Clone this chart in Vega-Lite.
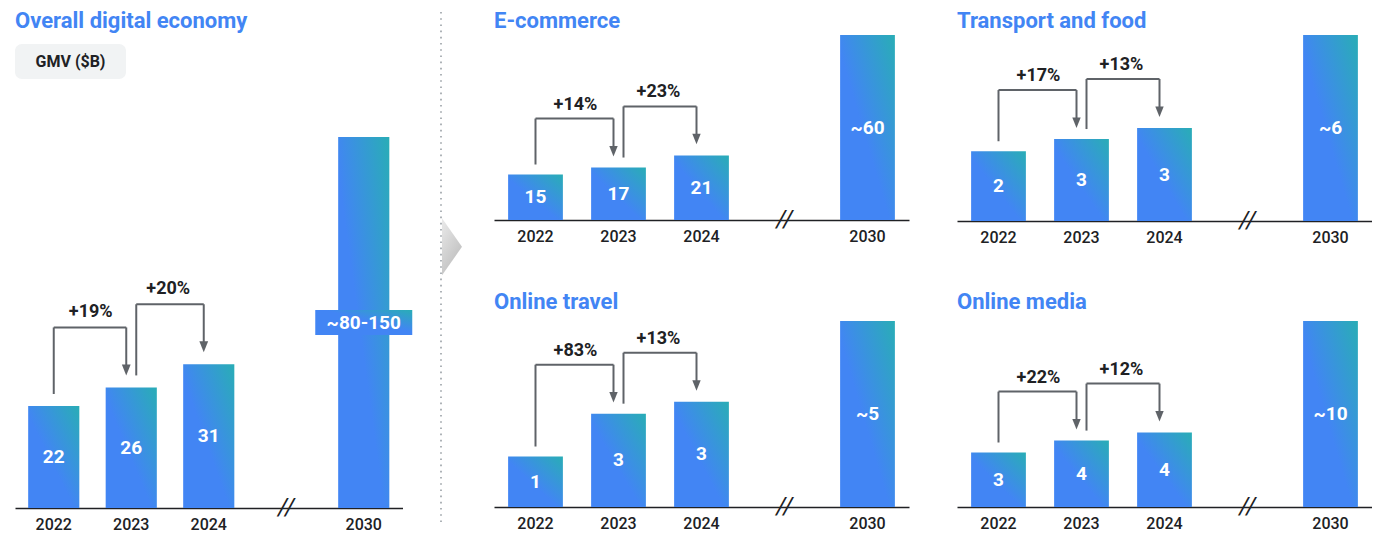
{
  "$schema": "https://vega.github.io/schema/vega-lite/v6.json",
  "background": "white",
  "padding": {"left": 15, "top": 10, "right": 0, "bottom": 0},
  "config": {
    "view": {"stroke": null},
    "font": "Roboto",
    "title": {"anchor": "start", "fontSize": 22, "fontWeight": "bold", "color": "#4285F4", "font": "Roboto"},
    "axis": {"labelFont": "Roboto", "labelFontWeight": 500}
  },
  "datasets": {
    "overall": [
      {"year": "2022", "value": 22, "label": "22"},
      {"year": "2023", "value": 26, "label": "26"},
      {"year": "2024", "value": 31, "label": "31"},
      {"year": "2030", "value": 80, "label": "~80-150"}
    ],
    "overall_growth": [
      {"from": "2022", "to": "2023", "fromValue": 22, "toValue": 26, "pct": "+19%", "step": 1},
      {"from": "2023", "to": "2024", "fromValue": 26, "toValue": 31, "pct": "+20%", "step": 2}
    ],
    "ecommerce": [
      {"year": "2022", "value": 15, "label": "15"},
      {"year": "2023", "value": 17.3, "label": "17"},
      {"year": "2024", "value": 21.3, "label": "21"},
      {"year": "2030", "value": 61, "label": "~60"}
    ],
    "ecommerce_growth": [
      {"from": "2022", "to": "2023", "fromValue": 15, "toValue": 17.3, "pct": "+14%", "step": 1},
      {"from": "2023", "to": "2024", "fromValue": 17.3, "toValue": 21.3, "pct": "+23%", "step": 2}
    ],
    "transport": [
      {"year": "2022", "value": 2.4, "label": "2"},
      {"year": "2023", "value": 2.82, "label": "3"},
      {"year": "2024", "value": 3.2, "label": "3"},
      {"year": "2030", "value": 6.4, "label": "~6"}
    ],
    "transport_growth": [
      {"from": "2022", "to": "2023", "fromValue": 2.4, "toValue": 2.82, "pct": "+17%", "step": 1},
      {"from": "2023", "to": "2024", "fromValue": 2.82, "toValue": 3.2, "pct": "+13%", "step": 2}
    ],
    "travel": [
      {"year": "2022", "value": 1.52, "label": "1"},
      {"year": "2023", "value": 2.81, "label": "3"},
      {"year": "2024", "value": 3.17, "label": "3"},
      {"year": "2030", "value": 5.6, "label": "~5"}
    ],
    "travel_growth": [
      {"from": "2022", "to": "2023", "fromValue": 1.52, "toValue": 2.81, "pct": "+83%", "step": 1},
      {"from": "2023", "to": "2024", "fromValue": 2.81, "toValue": 3.17, "pct": "+13%", "step": 2}
    ],
    "media": [
      {"year": "2022", "value": 2.93, "label": "3"},
      {"year": "2023", "value": 3.57, "label": "4"},
      {"year": "2024", "value": 4.0, "label": "4"},
      {"year": "2030", "value": 10, "label": "~10"}
    ],
    "media_growth": [
      {"from": "2022", "to": "2023", "fromValue": 2.93, "toValue": 3.57, "pct": "+22%", "step": 1},
      {"from": "2023", "to": "2024", "fromValue": 3.57, "toValue": 4.0, "pct": "+12%", "step": 2}
    ]
  },
  "spacing": 27,
  "hconcat": [
    {
      "spacing": 8,
      "vconcat": [
        {
          "title": {"text": "Overall digital economy", "offset": 2},
          "width": 111,
          "height": 1,
          "data": {"values": [{}]},
          "mark": {"type": "point", "size": 0, "opacity": 0, "filled": true},
          "encoding": {}
        },
        {
          "spacing": 58,
          "vconcat": [
            {
              "width": 111,
              "height": 35,
              "view": {"fill": "#f1f3f4", "stroke": null, "cornerRadius": 7},
              "data": {"values": [{}]},
              "mark": {"type": "text", "text": "GMV ($B)", "fontSize": 16, "fontWeight": "bold", "color": "#202124", "baseline": "middle"},
              "encoding": {}
            },
            {
              "width": 387.5,
              "height": 371,
              "data": {"name": "overall"},
              "resolve": {"scale": {"y": "independent"}},
              "layer": [
                {
                  "mark": {"type": "bar", "color": {"gradient": "linear", "x1": 0, "y1": 1, "x2": 1, "y2": 0, "stops": [{"offset": 0, "color": "#4285F4"}, {"offset": 0.45, "color": "#4285F4"}, {"offset": 1, "color": "#29ADB6"}]}},
                  "encoding": {
                    "x": {"field": "year", "type": "ordinal", "scale": {"domain": ["2022", "2023", "2024", "gap", "2030"], "paddingInner": 0.34, "paddingOuter": 0.17}, "axis": {"title": null, "labelExpr": "datum.value == 'gap' ? '' : datum.value", "ticks": false, "domainColor": "#202124", "domainWidth": 1.5, "labelFontSize": 16, "labelColor": "#202124", "labelPadding": 8, "labelAngle": 0}},
                    "y": {"field": "value", "type": "quantitative", "scale": {"domain": [0, 80], "nice": false}, "axis": null}
                  }
                },
                {
                  "transform": [{"filter": "datum.year == '2030'"}],
                  "mark": {"type": "bar", "width": 97, "yOffset": -12.5, "y2Offset": 12.5, "color": {"gradient": "linear", "x1": 0, "y1": 1, "x2": 1, "y2": 0, "stops": [{"offset": 0, "color": "#4285F4"}, {"offset": 0.55, "color": "#4285F4"}, {"offset": 1, "color": "#29ADB6"}]}},
                  "encoding": {
                    "x": {"field": "year", "type": "ordinal", "scale": {"domain": ["2022", "2023", "2024", "gap", "2030"], "paddingInner": 0.34, "paddingOuter": 0.17}},
                    "y": {"field": "value", "type": "quantitative", "scale": {"domain": [0, 160], "nice": false}, "axis": null},
                    "y2": {"field": "value"}
                  }
                },
                {
                  "mark": {"type": "text", "color": "white", "fontSize": 19, "fontWeight": "bold", "baseline": "middle"},
                  "encoding": {
                    "x": {"field": "year", "type": "ordinal", "scale": {"domain": ["2022", "2023", "2024", "gap", "2030"], "paddingInner": 0.34, "paddingOuter": 0.17}},
                    "y": {"field": "value", "type": "quantitative", "scale": {"domain": [0, 160], "nice": false}, "axis": null},
                    "text": {"field": "label"}
                  }
                },
                {
                  "data": {"values": [{}]},
                  "mark": {"type": "text", "text": "//", "fontSize": 24, "fontStyle": "italic", "color": "#202124", "baseline": "middle"},
                  "encoding": {
                    "x": {"datum": "gap", "type": "ordinal", "scale": {"domain": ["2022", "2023", "2024", "gap", "2030"], "paddingInner": 0.34, "paddingOuter": 0.17}},
                    "y": {"datum": 0, "type": "quantitative", "scale": {"domain": [0, 80], "nice": false}, "axis": null}
                  }
                },
                {
                  "data": {"name": "overall_growth"},
                  "mark": {"type": "rule", "color": "#5f6368", "strokeWidth": 2, "xOffset": {"expr": "datum.step == 2 ? 5 : 0"}, "yOffset": -12, "y2Offset": -60},
                  "encoding": {
                    "x": {"field": "from", "type": "ordinal", "scale": {"domain": ["2022", "2023", "2024", "gap", "2030"], "paddingInner": 0.34, "paddingOuter": 0.17}},
                    "y": {"field": "fromValue", "type": "quantitative", "scale": {"domain": [0, 80], "nice": false}, "axis": null},
                    "y2": {"field": "toValue"}
                  }
                },
                {
                  "data": {"name": "overall_growth"},
                  "mark": {"type": "rule", "color": "#5f6368", "strokeWidth": 2, "xOffset": {"expr": "datum.step == 2 ? 5 : 0"}, "x2Offset": -5, "yOffset": -60},
                  "encoding": {
                    "x": {"field": "from", "type": "ordinal", "scale": {"domain": ["2022", "2023", "2024", "gap", "2030"], "paddingInner": 0.34, "paddingOuter": 0.17}},
                    "x2": {"field": "to"},
                    "y": {"field": "toValue", "type": "quantitative", "scale": {"domain": [0, 80], "nice": false}, "axis": null}
                  }
                },
                {
                  "data": {"name": "overall_growth"},
                  "mark": {"type": "rule", "color": "#5f6368", "strokeWidth": 2, "xOffset": -5, "yOffset": -60, "y2Offset": -21},
                  "encoding": {
                    "x": {"field": "to", "type": "ordinal", "scale": {"domain": ["2022", "2023", "2024", "gap", "2030"], "paddingInner": 0.34, "paddingOuter": 0.17}},
                    "y": {"field": "toValue", "type": "quantitative", "scale": {"domain": [0, 80], "nice": false}, "axis": null},
                    "y2": {"field": "toValue"}
                  }
                },
                {
                  "data": {"name": "overall_growth"},
                  "mark": {"type": "point", "shape": "M-0.8,-1L0.8,-1L0,1Z", "size": 121, "filled": true, "opacity": 1, "color": "#5f6368", "xOffset": -5, "yOffset": -17.5},
                  "encoding": {
                    "x": {"field": "to", "type": "ordinal", "scale": {"domain": ["2022", "2023", "2024", "gap", "2030"], "paddingInner": 0.34, "paddingOuter": 0.17}},
                    "y": {"field": "toValue", "type": "quantitative", "scale": {"domain": [0, 80], "nice": false}, "axis": null}
                  }
                },
                {
                  "data": {"name": "overall_growth"},
                  "mark": {"type": "text", "fontSize": 18, "fontWeight": "bold", "color": "#202124", "baseline": "middle", "xOffset": 37, "yOffset": -75},
                  "encoding": {
                    "x": {"field": "from", "type": "ordinal", "scale": {"domain": ["2022", "2023", "2024", "gap", "2030"], "paddingInner": 0.34, "paddingOuter": 0.17}},
                    "y": {"field": "toValue", "type": "quantitative", "scale": {"domain": [0, 80], "nice": false}, "axis": null},
                    "text": {"field": "pct"}
                  }
                }
              ]
            }
          ]
        }
      ]
    },
    {
      "spacing": 31,
      "hconcat": [
        {
          "width": 22,
          "height": 487,
          "data": {"values": [{}]},
          "layer": [
            {
              "mark": {"type": "rule", "color": "#9aa0a6", "strokeWidth": 1.6, "strokeDash": [1.6, 4.6]},
              "encoding": {
                "x": {"datum": 0, "type": "quantitative", "scale": {"domain": [0, 1]}, "axis": null},
                "y": {"datum": 0, "type": "quantitative", "scale": {"domain": [0, 1], "nice": false}, "axis": null},
                "y2": {"datum": 1.049}
              }
            },
            {
              "mark": {"type": "point", "shape": "M-0.35,-1L0.35,0L-0.35,1Z", "size": 3249, "filled": true, "opacity": 1, "color": {"gradient": "linear", "x1": 0, "y1": 0, "x2": 0.6, "y2": 1, "stops": [{"offset": 0, "color": "#eaeaea"}, {"offset": 1, "color": "#bdbdbd"}]}},
              "encoding": {
                "x": {"datum": 0.5, "type": "quantitative", "scale": {"domain": [0, 1]}, "axis": null},
                "y": {"datum": 0.565, "type": "quantitative", "scale": {"domain": [0, 1], "nice": false}, "axis": null}
              }
            }
          ]
        },
        {
          "spacing": 46,
          "vconcat": [
            {
              "spacing": 48,
              "hconcat": [
                {
                  "title": {"text": "E-commerce", "offset": 2},
                  "width": 415,
                  "height": 185,
                  "data": {"name": "ecommerce"},
                  "resolve": {"scale": {"y": "independent"}},
                  "layer": [
                    {"mark": {"type": "bar", "color": {"gradient": "linear", "x1": 0, "y1": 1, "x2": 1, "y2": 0, "stops": [{"offset": 0, "color": "#4285F4"}, {"offset": 0.45, "color": "#4285F4"}, {"offset": 1, "color": "#29ADB6"}]}},
                      "encoding": {"x": {"field": "year", "type": "ordinal", "scale": {"domain": ["2022", "2023", "2024", "gap", "2030"], "paddingInner": 0.34, "paddingOuter": 0.17}, "axis": {"title": null, "labelExpr": "datum.value == 'gap' ? '' : datum.value", "ticks": false, "domainColor": "#202124", "domainWidth": 1.5, "labelFontSize": 16, "labelColor": "#202124", "labelPadding": 8, "labelAngle": 0}},
                        "y": {"field": "value", "type": "quantitative", "scale": {"domain": [0, 61], "nice": false}, "axis": null}}},
                    {"mark": {"type": "text", "color": "white", "fontSize": 19, "fontWeight": "bold", "baseline": "middle"},
                      "encoding": {"x": {"field": "year", "type": "ordinal", "scale": {"domain": ["2022", "2023", "2024", "gap", "2030"], "paddingInner": 0.34, "paddingOuter": 0.17}},
                        "y": {"field": "value", "type": "quantitative", "scale": {"domain": [0, 122], "nice": false}, "axis": null}, "text": {"field": "label"}}},
                    {"data": {"values": [{}]}, "mark": {"type": "text", "text": "//", "fontSize": 24, "fontStyle": "italic", "color": "#202124", "baseline": "middle"},
                      "encoding": {"x": {"datum": "gap", "type": "ordinal", "scale": {"domain": ["2022", "2023", "2024", "gap", "2030"], "paddingInner": 0.34, "paddingOuter": 0.17}},
                        "y": {"datum": 0, "type": "quantitative", "scale": {"domain": [0, 61], "nice": false}, "axis": null}}},
                    {"data": {"name": "ecommerce_growth"}, "mark": {"type": "rule", "color": "#5f6368", "strokeWidth": 2, "xOffset": {"expr": "datum.step == 2 ? 5 : 0"}, "yOffset": -10, "y2Offset": -49},
                      "encoding": {"x": {"field": "from", "type": "ordinal", "scale": {"domain": ["2022", "2023", "2024", "gap", "2030"], "paddingInner": 0.34, "paddingOuter": 0.17}},
                        "y": {"field": "fromValue", "type": "quantitative", "scale": {"domain": [0, 61], "nice": false}, "axis": null}, "y2": {"field": "toValue"}}},
                    {"data": {"name": "ecommerce_growth"}, "mark": {"type": "rule", "color": "#5f6368", "strokeWidth": 2, "xOffset": {"expr": "datum.step == 2 ? 5 : 0"}, "x2Offset": -5, "yOffset": -49},
                      "encoding": {"x": {"field": "from", "type": "ordinal", "scale": {"domain": ["2022", "2023", "2024", "gap", "2030"], "paddingInner": 0.34, "paddingOuter": 0.17}}, "x2": {"field": "to"},
                        "y": {"field": "toValue", "type": "quantitative", "scale": {"domain": [0, 61], "nice": false}, "axis": null}}},
                    {"data": {"name": "ecommerce_growth"}, "mark": {"type": "rule", "color": "#5f6368", "strokeWidth": 2, "xOffset": -5, "yOffset": -49, "y2Offset": -20},
                      "encoding": {"x": {"field": "to", "type": "ordinal", "scale": {"domain": ["2022", "2023", "2024", "gap", "2030"], "paddingInner": 0.34, "paddingOuter": 0.17}},
                        "y": {"field": "toValue", "type": "quantitative", "scale": {"domain": [0, 61], "nice": false}, "axis": null}, "y2": {"field": "toValue"}}},
                    {"data": {"name": "ecommerce_growth"}, "mark": {"type": "point", "shape": "M-0.8,-1L0.8,-1L0,1Z", "size": 110, "filled": true, "opacity": 1, "color": "#5f6368", "xOffset": -5, "yOffset": -16.3},
                      "encoding": {"x": {"field": "to", "type": "ordinal", "scale": {"domain": ["2022", "2023", "2024", "gap", "2030"], "paddingInner": 0.34, "paddingOuter": 0.17}},
                        "y": {"field": "toValue", "type": "quantitative", "scale": {"domain": [0, 61], "nice": false}, "axis": null}}},
                    {"data": {"name": "ecommerce_growth"}, "mark": {"type": "text", "fontSize": 18, "fontWeight": "bold", "color": "#202124", "baseline": "middle", "xOffset": 40, "yOffset": -63},
                      "encoding": {"x": {"field": "from", "type": "ordinal", "scale": {"domain": ["2022", "2023", "2024", "gap", "2030"], "paddingInner": 0.34, "paddingOuter": 0.17}},
                        "y": {"field": "toValue", "type": "quantitative", "scale": {"domain": [0, 61], "nice": false}, "axis": null}, "text": {"field": "pct"}}}
                  ]
                },
                {
                  "title": {"text": "Transport and food", "offset": 2},
                  "width": 415,
                  "height": 186,
                  "data": {"name": "transport"},
                  "resolve": {"scale": {"y": "independent"}},
                  "layer": [
                    {"mark": {"type": "bar", "color": {"gradient": "linear", "x1": 0, "y1": 1, "x2": 1, "y2": 0, "stops": [{"offset": 0, "color": "#4285F4"}, {"offset": 0.45, "color": "#4285F4"}, {"offset": 1, "color": "#29ADB6"}]}},
                      "encoding": {"x": {"field": "year", "type": "ordinal", "scale": {"domain": ["2022", "2023", "2024", "gap", "2030"], "paddingInner": 0.34, "paddingOuter": 0.17}, "axis": {"title": null, "labelExpr": "datum.value == 'gap' ? '' : datum.value", "ticks": false, "domainColor": "#202124", "domainWidth": 1.5, "labelFontSize": 16, "labelColor": "#202124", "labelPadding": 8, "labelAngle": 0}},
                        "y": {"field": "value", "type": "quantitative", "scale": {"domain": [0, 6.4], "nice": false}, "axis": null}}},
                    {"mark": {"type": "text", "color": "white", "fontSize": 19, "fontWeight": "bold", "baseline": "middle"},
                      "encoding": {"x": {"field": "year", "type": "ordinal", "scale": {"domain": ["2022", "2023", "2024", "gap", "2030"], "paddingInner": 0.34, "paddingOuter": 0.17}},
                        "y": {"field": "value", "type": "quantitative", "scale": {"domain": [0, 12.8], "nice": false}, "axis": null}, "text": {"field": "label"}}},
                    {"data": {"values": [{}]}, "mark": {"type": "text", "text": "//", "fontSize": 24, "fontStyle": "italic", "color": "#202124", "baseline": "middle"},
                      "encoding": {"x": {"datum": "gap", "type": "ordinal", "scale": {"domain": ["2022", "2023", "2024", "gap", "2030"], "paddingInner": 0.34, "paddingOuter": 0.17}},
                        "y": {"datum": 0, "type": "quantitative", "scale": {"domain": [0, 6.4], "nice": false}, "axis": null}}},
                    {"data": {"name": "transport_growth"}, "mark": {"type": "rule", "color": "#5f6368", "strokeWidth": 2, "xOffset": {"expr": "datum.step == 2 ? 5 : 0"}, "yOffset": -10, "y2Offset": -49},
                      "encoding": {"x": {"field": "from", "type": "ordinal", "scale": {"domain": ["2022", "2023", "2024", "gap", "2030"], "paddingInner": 0.34, "paddingOuter": 0.17}},
                        "y": {"field": "fromValue", "type": "quantitative", "scale": {"domain": [0, 6.4], "nice": false}, "axis": null}, "y2": {"field": "toValue"}}},
                    {"data": {"name": "transport_growth"}, "mark": {"type": "rule", "color": "#5f6368", "strokeWidth": 2, "xOffset": {"expr": "datum.step == 2 ? 5 : 0"}, "x2Offset": -5, "yOffset": -49},
                      "encoding": {"x": {"field": "from", "type": "ordinal", "scale": {"domain": ["2022", "2023", "2024", "gap", "2030"], "paddingInner": 0.34, "paddingOuter": 0.17}}, "x2": {"field": "to"},
                        "y": {"field": "toValue", "type": "quantitative", "scale": {"domain": [0, 6.4], "nice": false}, "axis": null}}},
                    {"data": {"name": "transport_growth"}, "mark": {"type": "rule", "color": "#5f6368", "strokeWidth": 2, "xOffset": -5, "yOffset": -49, "y2Offset": -20},
                      "encoding": {"x": {"field": "to", "type": "ordinal", "scale": {"domain": ["2022", "2023", "2024", "gap", "2030"], "paddingInner": 0.34, "paddingOuter": 0.17}},
                        "y": {"field": "toValue", "type": "quantitative", "scale": {"domain": [0, 6.4], "nice": false}, "axis": null}, "y2": {"field": "toValue"}}},
                    {"data": {"name": "transport_growth"}, "mark": {"type": "point", "shape": "M-0.8,-1L0.8,-1L0,1Z", "size": 110, "filled": true, "opacity": 1, "color": "#5f6368", "xOffset": -5, "yOffset": -16.3},
                      "encoding": {"x": {"field": "to", "type": "ordinal", "scale": {"domain": ["2022", "2023", "2024", "gap", "2030"], "paddingInner": 0.34, "paddingOuter": 0.17}},
                        "y": {"field": "toValue", "type": "quantitative", "scale": {"domain": [0, 6.4], "nice": false}, "axis": null}}},
                    {"data": {"name": "transport_growth"}, "mark": {"type": "text", "fontSize": 18, "fontWeight": "bold", "color": "#202124", "baseline": "middle", "xOffset": 40, "yOffset": -63},
                      "encoding": {"x": {"field": "from", "type": "ordinal", "scale": {"domain": ["2022", "2023", "2024", "gap", "2030"], "paddingInner": 0.34, "paddingOuter": 0.17}},
                        "y": {"field": "toValue", "type": "quantitative", "scale": {"domain": [0, 6.4], "nice": false}, "axis": null}, "text": {"field": "pct"}}}
                  ]
                }
              ]
            },
            {
              "spacing": 48,
              "hconcat": [
                {
                  "title": {"text": "Online travel", "offset": 7},
                  "width": 415,
                  "height": 186,
                  "data": {"name": "travel"},
                  "resolve": {"scale": {"y": "independent"}},
                  "layer": [
                    {"mark": {"type": "bar", "color": {"gradient": "linear", "x1": 0, "y1": 1, "x2": 1, "y2": 0, "stops": [{"offset": 0, "color": "#4285F4"}, {"offset": 0.45, "color": "#4285F4"}, {"offset": 1, "color": "#29ADB6"}]}},
                      "encoding": {"x": {"field": "year", "type": "ordinal", "scale": {"domain": ["2022", "2023", "2024", "gap", "2030"], "paddingInner": 0.34, "paddingOuter": 0.17}, "axis": {"title": null, "labelExpr": "datum.value == 'gap' ? '' : datum.value", "ticks": false, "domainColor": "#202124", "domainWidth": 1.5, "labelFontSize": 16, "labelColor": "#202124", "labelPadding": 8, "labelAngle": 0}},
                        "y": {"field": "value", "type": "quantitative", "scale": {"domain": [0, 5.6], "nice": false}, "axis": null}}},
                    {"mark": {"type": "text", "color": "white", "fontSize": 19, "fontWeight": "bold", "baseline": "middle"},
                      "encoding": {"x": {"field": "year", "type": "ordinal", "scale": {"domain": ["2022", "2023", "2024", "gap", "2030"], "paddingInner": 0.34, "paddingOuter": 0.17}},
                        "y": {"field": "value", "type": "quantitative", "scale": {"domain": [0, 11.2], "nice": false}, "axis": null}, "text": {"field": "label"}}},
                    {"data": {"values": [{}]}, "mark": {"type": "text", "text": "//", "fontSize": 24, "fontStyle": "italic", "color": "#202124", "baseline": "middle"},
                      "encoding": {"x": {"datum": "gap", "type": "ordinal", "scale": {"domain": ["2022", "2023", "2024", "gap", "2030"], "paddingInner": 0.34, "paddingOuter": 0.17}},
                        "y": {"datum": 0, "type": "quantitative", "scale": {"domain": [0, 5.6], "nice": false}, "axis": null}}},
                    {"data": {"name": "travel_growth"}, "mark": {"type": "rule", "color": "#5f6368", "strokeWidth": 2, "xOffset": {"expr": "datum.step == 2 ? 5 : 0"}, "yOffset": -10, "y2Offset": -49},
                      "encoding": {"x": {"field": "from", "type": "ordinal", "scale": {"domain": ["2022", "2023", "2024", "gap", "2030"], "paddingInner": 0.34, "paddingOuter": 0.17}},
                        "y": {"field": "fromValue", "type": "quantitative", "scale": {"domain": [0, 5.6], "nice": false}, "axis": null}, "y2": {"field": "toValue"}}},
                    {"data": {"name": "travel_growth"}, "mark": {"type": "rule", "color": "#5f6368", "strokeWidth": 2, "xOffset": {"expr": "datum.step == 2 ? 5 : 0"}, "x2Offset": -5, "yOffset": -49},
                      "encoding": {"x": {"field": "from", "type": "ordinal", "scale": {"domain": ["2022", "2023", "2024", "gap", "2030"], "paddingInner": 0.34, "paddingOuter": 0.17}}, "x2": {"field": "to"},
                        "y": {"field": "toValue", "type": "quantitative", "scale": {"domain": [0, 5.6], "nice": false}, "axis": null}}},
                    {"data": {"name": "travel_growth"}, "mark": {"type": "rule", "color": "#5f6368", "strokeWidth": 2, "xOffset": -5, "yOffset": -49, "y2Offset": -20},
                      "encoding": {"x": {"field": "to", "type": "ordinal", "scale": {"domain": ["2022", "2023", "2024", "gap", "2030"], "paddingInner": 0.34, "paddingOuter": 0.17}},
                        "y": {"field": "toValue", "type": "quantitative", "scale": {"domain": [0, 5.6], "nice": false}, "axis": null}, "y2": {"field": "toValue"}}},
                    {"data": {"name": "travel_growth"}, "mark": {"type": "point", "shape": "M-0.8,-1L0.8,-1L0,1Z", "size": 110, "filled": true, "opacity": 1, "color": "#5f6368", "xOffset": -5, "yOffset": -16.3},
                      "encoding": {"x": {"field": "to", "type": "ordinal", "scale": {"domain": ["2022", "2023", "2024", "gap", "2030"], "paddingInner": 0.34, "paddingOuter": 0.17}},
                        "y": {"field": "toValue", "type": "quantitative", "scale": {"domain": [0, 5.6], "nice": false}, "axis": null}}},
                    {"data": {"name": "travel_growth"}, "mark": {"type": "text", "fontSize": 18, "fontWeight": "bold", "color": "#202124", "baseline": "middle", "xOffset": 40, "yOffset": -63},
                      "encoding": {"x": {"field": "from", "type": "ordinal", "scale": {"domain": ["2022", "2023", "2024", "gap", "2030"], "paddingInner": 0.34, "paddingOuter": 0.17}},
                        "y": {"field": "toValue", "type": "quantitative", "scale": {"domain": [0, 5.6], "nice": false}, "axis": null}, "text": {"field": "pct"}}}
                  ]
                },
                {
                  "title": {"text": "Online media", "offset": 7},
                  "width": 415,
                  "height": 186,
                  "data": {"name": "media"},
                  "resolve": {"scale": {"y": "independent"}},
                  "layer": [
                    {"mark": {"type": "bar", "color": {"gradient": "linear", "x1": 0, "y1": 1, "x2": 1, "y2": 0, "stops": [{"offset": 0, "color": "#4285F4"}, {"offset": 0.45, "color": "#4285F4"}, {"offset": 1, "color": "#29ADB6"}]}},
                      "encoding": {"x": {"field": "year", "type": "ordinal", "scale": {"domain": ["2022", "2023", "2024", "gap", "2030"], "paddingInner": 0.34, "paddingOuter": 0.17}, "axis": {"title": null, "labelExpr": "datum.value == 'gap' ? '' : datum.value", "ticks": false, "domainColor": "#202124", "domainWidth": 1.5, "labelFontSize": 16, "labelColor": "#202124", "labelPadding": 8, "labelAngle": 0}},
                        "y": {"field": "value", "type": "quantitative", "scale": {"domain": [0, 10], "nice": false}, "axis": null}}},
                    {"mark": {"type": "text", "color": "white", "fontSize": 19, "fontWeight": "bold", "baseline": "middle"},
                      "encoding": {"x": {"field": "year", "type": "ordinal", "scale": {"domain": ["2022", "2023", "2024", "gap", "2030"], "paddingInner": 0.34, "paddingOuter": 0.17}},
                        "y": {"field": "value", "type": "quantitative", "scale": {"domain": [0, 20], "nice": false}, "axis": null}, "text": {"field": "label"}}},
                    {"data": {"values": [{}]}, "mark": {"type": "text", "text": "//", "fontSize": 24, "fontStyle": "italic", "color": "#202124", "baseline": "middle"},
                      "encoding": {"x": {"datum": "gap", "type": "ordinal", "scale": {"domain": ["2022", "2023", "2024", "gap", "2030"], "paddingInner": 0.34, "paddingOuter": 0.17}},
                        "y": {"datum": 0, "type": "quantitative", "scale": {"domain": [0, 10], "nice": false}, "axis": null}}},
                    {"data": {"name": "media_growth"}, "mark": {"type": "rule", "color": "#5f6368", "strokeWidth": 2, "xOffset": {"expr": "datum.step == 2 ? 5 : 0"}, "yOffset": -10, "y2Offset": -49},
                      "encoding": {"x": {"field": "from", "type": "ordinal", "scale": {"domain": ["2022", "2023", "2024", "gap", "2030"], "paddingInner": 0.34, "paddingOuter": 0.17}},
                        "y": {"field": "fromValue", "type": "quantitative", "scale": {"domain": [0, 10], "nice": false}, "axis": null}, "y2": {"field": "toValue"}}},
                    {"data": {"name": "media_growth"}, "mark": {"type": "rule", "color": "#5f6368", "strokeWidth": 2, "xOffset": {"expr": "datum.step == 2 ? 5 : 0"}, "x2Offset": -5, "yOffset": -49},
                      "encoding": {"x": {"field": "from", "type": "ordinal", "scale": {"domain": ["2022", "2023", "2024", "gap", "2030"], "paddingInner": 0.34, "paddingOuter": 0.17}}, "x2": {"field": "to"},
                        "y": {"field": "toValue", "type": "quantitative", "scale": {"domain": [0, 10], "nice": false}, "axis": null}}},
                    {"data": {"name": "media_growth"}, "mark": {"type": "rule", "color": "#5f6368", "strokeWidth": 2, "xOffset": -5, "yOffset": -49, "y2Offset": -20},
                      "encoding": {"x": {"field": "to", "type": "ordinal", "scale": {"domain": ["2022", "2023", "2024", "gap", "2030"], "paddingInner": 0.34, "paddingOuter": 0.17}},
                        "y": {"field": "toValue", "type": "quantitative", "scale": {"domain": [0, 10], "nice": false}, "axis": null}, "y2": {"field": "toValue"}}},
                    {"data": {"name": "media_growth"}, "mark": {"type": "point", "shape": "M-0.8,-1L0.8,-1L0,1Z", "size": 110, "filled": true, "opacity": 1, "color": "#5f6368", "xOffset": -5, "yOffset": -16.3},
                      "encoding": {"x": {"field": "to", "type": "ordinal", "scale": {"domain": ["2022", "2023", "2024", "gap", "2030"], "paddingInner": 0.34, "paddingOuter": 0.17}},
                        "y": {"field": "toValue", "type": "quantitative", "scale": {"domain": [0, 10], "nice": false}, "axis": null}}},
                    {"data": {"name": "media_growth"}, "mark": {"type": "text", "fontSize": 18, "fontWeight": "bold", "color": "#202124", "baseline": "middle", "xOffset": 40, "yOffset": -63},
                      "encoding": {"x": {"field": "from", "type": "ordinal", "scale": {"domain": ["2022", "2023", "2024", "gap", "2030"], "paddingInner": 0.34, "paddingOuter": 0.17}},
                        "y": {"field": "toValue", "type": "quantitative", "scale": {"domain": [0, 10], "nice": false}, "axis": null}, "text": {"field": "pct"}}}
                  ]
                }
              ]
            }
          ]
        }
      ]
    }
  ]
}
